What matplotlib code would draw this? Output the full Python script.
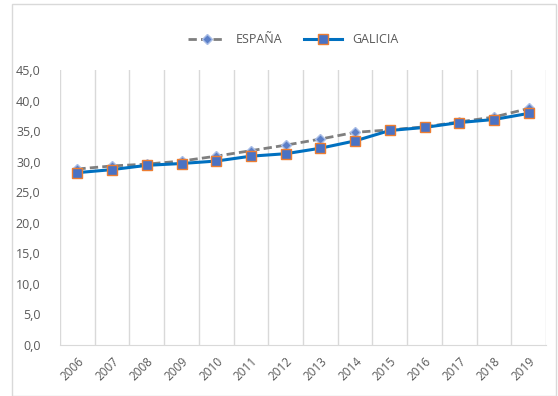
import matplotlib.pyplot as plt
from matplotlib.patches import Rectangle
from matplotlib.ticker import FuncFormatter
import numpy as np

plt.rcParams['font.family'] = ['Open Sans', 'DejaVu Sans']

years = ['2006', '2007', '2008', '2009', '2010', '2011', '2012',
         '2013', '2014', '2015', '2016', '2017', '2018', '2019']
espana = [28.8, 29.3, 29.6, 30.1, 30.9, 31.8, 32.7,
          33.7, 34.8, 35.2, 35.7, 36.5, 37.3, 38.7]
galicia = [28.2, 28.7, 29.4, 29.7, 30.1, 30.9, 31.3,
           32.2, 33.4, 35.1, 35.6, 36.4, 36.9, 37.9]

fig = plt.figure(figsize=(5.58, 3.96), dpi=100)
ax = fig.add_axes([60 / 558, 51 / 396, 486 / 558, 275 / 396])

# outer chart border
fig.patches.append(Rectangle((12 / 558, 0.0), 544 / 558, 392 / 396,
                             transform=fig.transFigure, fill=False,
                             edgecolor='#d9d9d9', linewidth=1))

x = np.arange(len(years))

ax.plot(x, espana, color='#7f7f7f', linestyle=(0, (3, 1.5)), linewidth=2,
        marker='D', markersize=5.5, markerfacecolor='#5b7fc8',
        markeredgecolor='#a9bde6', markeredgewidth=1, label='ESPAÑA', zorder=3)
ax.plot(x, galicia, color='#0070c0', linewidth=2.2,
        marker='s', markersize=6.5, markerfacecolor='#4a72c4',
        markeredgecolor='#ed7d31', markeredgewidth=1, label='GALICIA', zorder=4)

ax.set_xlim(-0.5, len(years) - 0.5)
ax.set_ylim(0, 45)
ax.set_yticks(np.arange(0, 46, 5))
ax.yaxis.set_major_formatter(FuncFormatter(lambda v, p: f'{v:.1f}'.replace('.', ',')))

ax.set_xticks(x)
ax.set_xticklabels(years, rotation=45, ha='right', rotation_mode='anchor')
# vertical gridlines between categories
ax.set_xticks(np.arange(-0.5, len(years), 1), minor=True)
ax.grid(True, which='minor', axis='x', color='#d9d9d9', linewidth=1)
ax.grid(False, which='major')

for s in ['top', 'right', 'left']:
    ax.spines[s].set_visible(False)
ax.spines['bottom'].set_color('#d9d9d9')
ax.tick_params(axis='both', which='both', length=0, labelsize=9, colors='#595959')
ax.tick_params(axis='x', labelsize=8.5, pad=7)
ax.tick_params(axis='y', pad=14)

leg = fig.legend(loc='upper center', bbox_to_anchor=(0.525, 0.945), ncol=2,
                 frameon=False, fontsize=9, handlelength=3.0, columnspacing=1.8)
for t in leg.get_texts():
    t.set_color('#595959')

plt.savefig('out.png', dpi=100)
